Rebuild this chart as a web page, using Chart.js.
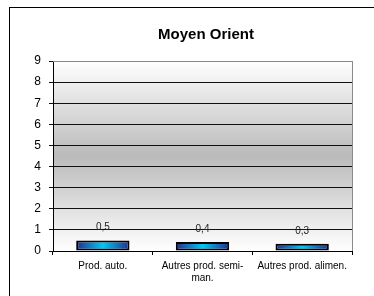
<!DOCTYPE html>
<html>
<head>
<meta charset="utf-8">
<script src="https://cdn.jsdelivr.net/npm/chart.js@4/dist/chart.umd.min.js"></script>
<style>
html,body{margin:0;padding:0;background:#fff;}
canvas{display:block;}
</style>
</head>
<body>
<canvas id="c" width="374" height="296"></canvas>
<script>
const chartTitle = 'Moyen Orient';
const categories = ['Prod. auto.', ['Autres prod. semi-', 'man.'], 'Autres prod. alimen.'];
const values = [0.5, 0.43, 0.34];
const yTicks = [0, 1, 2, 3, 4, 5, 6, 7, 8, 9];

const FONT = '"Liberation Sans", Arial, sans-serif';
const BAR_PCT = 0.535;

function barFill(ctx) {
  const chart = ctx.chart;
  const xs = chart.scales && chart.scales.x;
  const a = chart.chartArea;
  if (!a || !xs || ctx.dataIndex === undefined) return '#10a8e8';
  const cx = xs.getPixelForValue(ctx.dataIndex);
  const half = (a.right - a.left) / categories.length * BAR_PCT / 2;
  if (!isFinite(cx)) return '#10a8e8';
  const g = chart.ctx.createLinearGradient(cx - half, 0, cx + half, 0);
  g.addColorStop(0, '#222e8c');
  g.addColorStop(0.5, '#00c8f8');
  g.addColorStop(1, '#222e8c');
  return g;
}

const decorPlugin = {
  id: 'decor',
  beforeDraw(chart) {
    const {ctx, chartArea: a} = chart;
    ctx.save();
    ctx.fillStyle = '#fff';
    ctx.fillRect(0, 0, chart.width, chart.height);
    const g = ctx.createLinearGradient(0, a.top, 0, a.bottom);
    g.addColorStop(0, '#ffffff');
    g.addColorStop(0.5, '#bababa');
    g.addColorStop(1, '#ffffff');
    ctx.fillStyle = g;
    ctx.fillRect(a.left, a.top, a.right - a.left, a.bottom - a.top);
    ctx.strokeStyle = '#000';
    ctx.lineWidth = 1;
    ctx.strokeRect(9.5, 7.5, 500, 400);
    ctx.restore();
  },
  afterDraw(chart) {
    const {ctx, chartArea: a} = chart;
    ctx.save();
    ctx.strokeStyle = '#8a8a8a';
    ctx.lineWidth = 1;
    ctx.beginPath();
    ctx.moveTo(a.right + 0.5, a.top);
    ctx.lineTo(a.right + 0.5, a.bottom);
    ctx.moveTo(a.left, a.top + 0.5);
    ctx.lineTo(a.right + 1, a.top + 0.5);
    ctx.stroke();
    ctx.fillStyle = '#000';
    ctx.font = 'bold 15px ' + FONT;
    ctx.textAlign = 'center';
    ctx.textBaseline = 'middle';
    ctx.fillText(chartTitle, 206, 35);
    ctx.restore();
  },
  afterDatasetsDraw(chart) {
    const {ctx} = chart;
    const meta = chart.getDatasetMeta(0);
    ctx.save();
    ctx.fillStyle = '#222';
    ctx.font = '10px ' + FONT;
    ctx.textAlign = 'center';
    ctx.textBaseline = 'middle';
    meta.data.forEach((el, i) => {
      const txt = values[i].toFixed(1).replace('.', ',');
      ctx.fillText(txt, el.x, el.y - 13);
    });
    ctx.restore();
  }
};

new Chart(document.getElementById('c'), {
  type: 'bar',
  data: {
    labels: categories,
    datasets: [{
      data: values,
      backgroundColor: barFill,
      borderColor: '#000',
      borderWidth: 2,
      borderSkipped: false,
      barPercentage: BAR_PCT,
      categoryPercentage: 1
    }]
  },
  options: {
    responsive: false,
    devicePixelRatio: 1,
    animation: false,
    layout: {padding: {top: 61, right: 22, left: 0, bottom: 0}},
    plugins: {
      legend: {display: false},
      title: {display: false},
      tooltip: {enabled: false}
    },
    scales: {
      x: {
        afterFit(s) { s.height = 45; },
        border: {display: true, color: '#000', width: 1},
        grid: {offset: true, drawOnChartArea: false, drawTicks: true, tickLength: 4, color: '#000'},
        ticks: {color: '#000', font: {family: FONT, size: 10}, padding: 5, maxRotation: 0, autoSkip: false}
      },
      y: {
        min: 0,
        max: 9,
        afterFit(s) { s.width = 53; },
        afterBuildTicks(s) { s.ticks = yTicks.map(v => ({value: v})); },
        border: {display: true, color: '#000', width: 1},
        grid: {color: '#111', lineWidth: 1, drawTicks: true, tickLength: 4},
        ticks: {color: '#000', font: {family: FONT, size: 12}, padding: 8}
      }
    }
  },
  plugins: [decorPlugin]
});
</script>
</body>
</html>
